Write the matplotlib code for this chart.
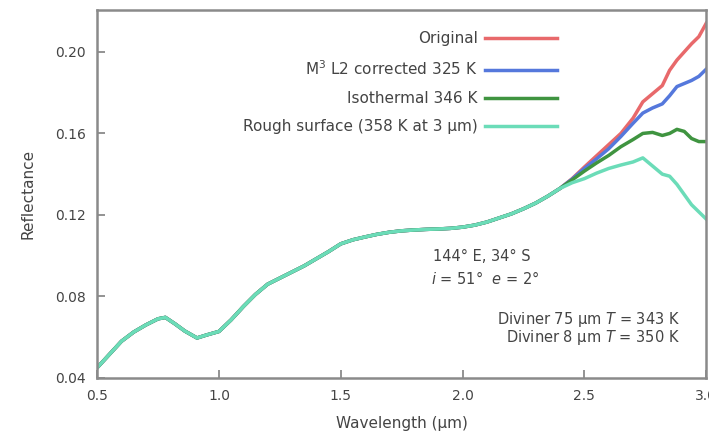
import matplotlib
matplotlib.use("Agg")
import matplotlib.pyplot as plt

plt.rcParams['font.family'] = ['DejaVu Sans']

# shared part of the spectrum (all four curves overlap here)
wl_common = [0.50, 0.55, 0.60, 0.65, 0.70, 0.75, 0.78, 0.82, 0.86, 0.91,
             0.95, 1.00, 1.05, 1.10, 1.15, 1.20, 1.25, 1.30, 1.35, 1.40,
             1.45, 1.50, 1.55, 1.60, 1.65, 1.70, 1.75, 1.80, 1.85, 1.90,
             1.95, 2.00, 2.05, 2.10, 2.15, 2.20, 2.25, 2.30, 2.35, 2.40]
refl_common = [0.0450, 0.0515, 0.0580, 0.0625, 0.0660, 0.0690, 0.0697, 0.0665, 0.0630, 0.0596,
               0.0611, 0.0628, 0.0685, 0.0750, 0.0810, 0.0860, 0.0890, 0.0920, 0.0950, 0.0985,
               0.1020, 0.1058, 0.1078, 0.1092, 0.1105, 0.1115, 0.1122, 0.1126, 0.1129, 0.1131,
               0.1134, 0.1140, 0.1150, 0.1165, 0.1185, 0.1205, 0.1230, 0.1258, 0.1292, 0.1330]

# long-wavelength part where the thermal corrections differ
wl_tail = [2.45, 2.50, 2.55, 2.60, 2.65, 2.70, 2.74, 2.78, 2.82,
           2.85, 2.88, 2.91, 2.94, 2.97, 3.00]
original_tail = [0.1378, 0.1435, 0.1490, 0.1545, 0.1600, 0.1675, 0.1755, 0.1795, 0.1835,
                 0.1910, 0.1960, 0.2000, 0.2040, 0.2075, 0.2140]
m3_tail = [0.1376, 0.1428, 0.1475, 0.1525, 0.1585, 0.1650, 0.1700, 0.1725, 0.1745,
           0.1785, 0.1830, 0.1845, 0.1860, 0.1880, 0.1915]
iso_tail = [0.1372, 0.1415, 0.1455, 0.1492, 0.1535, 0.1570, 0.1600, 0.1605, 0.1590,
            0.1600, 0.1620, 0.1610, 0.1575, 0.1560, 0.1560]
rough_tail = [0.1358, 0.1378, 0.1405, 0.1428, 0.1445, 0.1460, 0.1480, 0.1440, 0.1400,
              0.1390, 0.1350, 0.1300, 0.1250, 0.1215, 0.1180]

wl = wl_common + wl_tail
series = [
    ("Original", refl_common + original_tail, "#e8696b"),
    ("M$^3$ L2 corrected 325 K", refl_common + m3_tail, "#5578dc"),
    ("Isothermal 346 K", refl_common + iso_tail, "#3f9440"),
    ("Rough surface (358 K at 3 \u03bcm)", refl_common + rough_tail, "#6bdcb8"),
]

fig = plt.figure(figsize=(7.09, 4.42), dpi=100)
ax = fig.add_axes([0.137, 0.145, 0.859, 0.832])

for label, vals, col in series:
    ax.plot(wl, vals, color=col, lw=2.5, label=label, solid_joinstyle='round')

ax.set_xlim(0.5, 3.0)
ax.set_ylim(0.04, 0.2205)
ax.set_xticks([0.5, 1.0, 1.5, 2.0, 2.5, 3.0])
ax.set_yticks([0.04, 0.08, 0.12, 0.16, 0.20])
ax.set_xticklabels(["0.5", "1.0", "1.5", "2.0", "2.5", "3.0"])
ax.set_yticklabels(["0.04", "0.08", "0.12", "0.16", "0.20"])

tc = "#444444"
for s in ax.spines.values():
    s.set_color("#8a8a8a")
    s.set_linewidth(1.8)
ax.tick_params(direction='in', length=6, width=1.3, color="#8a8a8a",
               labelcolor=tc, labelsize=10, pad=8)

ax.set_xlabel("Wavelength (\u03bcm)", fontsize=11, color=tc, labelpad=9)
ax.set_ylabel("Reflectance", fontsize=11, color=tc, labelpad=14)

leg = ax.legend(loc='upper right', bbox_to_anchor=(0.755, 0.943), frameon=False,
                markerfirst=False, fontsize=11, handlelength=4.7,
                labelspacing=0.86, borderaxespad=0, borderpad=0, handletextpad=0.5)
for t in leg.get_texts():
    t.set_color(tc)

ax.text(1.88, 0.0995, "144\u00b0 E, 34\u00b0 S", fontsize=10.5, color=tc, va='center')
ax.text(1.87, 0.0887, "$i$ = 51\u00b0  $e$ = 2\u00b0", fontsize=10.5, color=tc, va='center')
ax.text(2.893, 0.0685, "Diviner 75 \u03bcm $T$ = 343 K", fontsize=10.5, color=tc,
        va='center', ha='right')
ax.text(2.893, 0.0597, "Diviner 8 \u03bcm $T$ = 350 K", fontsize=10.5, color=tc,
        va='center', ha='right')

fig.savefig("out.png", dpi=100)
